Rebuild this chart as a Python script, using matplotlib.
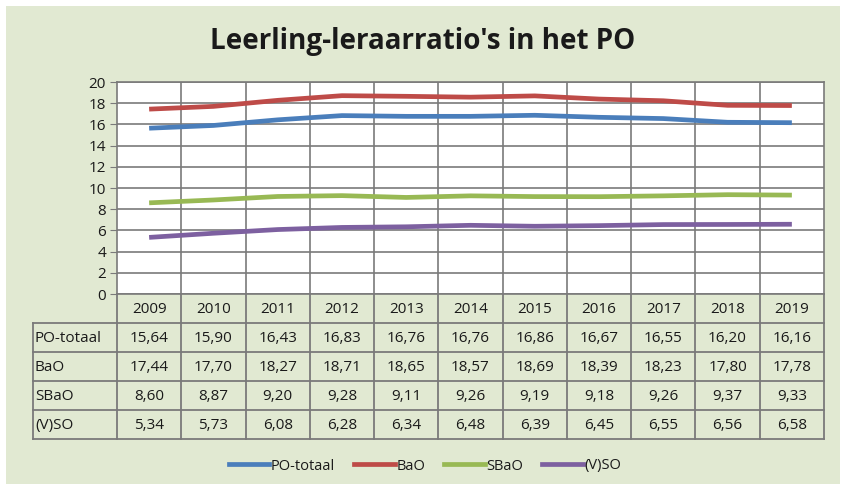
import matplotlib
matplotlib.use("Agg")
import matplotlib.pyplot as plt
from matplotlib.lines import Line2D
from matplotlib.patches import Rectangle

years = [2009, 2010, 2011, 2012, 2013, 2014, 2015, 2016, 2017, 2018, 2019]
po_totaal = [15.64, 15.90, 16.43, 16.83, 16.76, 16.76, 16.86, 16.67, 16.55, 16.20, 16.16]
bao = [17.44, 17.70, 18.27, 18.71, 18.65, 18.57, 18.69, 18.39, 18.23, 17.80, 17.78]
sbao = [8.60, 8.87, 9.20, 9.28, 9.11, 9.26, 9.19, 9.18, 9.26, 9.37, 9.33]
vso = [5.34, 5.73, 6.08, 6.28, 6.34, 6.48, 6.39, 6.45, 6.55, 6.56, 6.58]
names = ["PO-totaal", "BaO", "SBaO", "(V)SO"]
colors = ["#4a7ebb", "#be4b48", "#98b954", "#7d60a0"]
series = [po_totaal, bao, sbao, vso]

W, H = 846, 491
bg = "#e1e9d2"
gridc = "#7a7a7a"
txt = "#1a1a1a"
plt.rcParams['font.family'] = ['Open Sans', 'DejaVu Sans']

fig = plt.figure(figsize=(W / 100, H / 100), dpi=100)
fig.patch.set_facecolor("white")

def fx(x):
    return x / W

def fy(y):
    return 1 - y / H

fig.add_artist(Rectangle((fx(6), fy(484)), fx(834), (478) / H, transform=fig.transFigure,
                         facecolor=bg, edgecolor="none", zorder=0))

left, right, top, bottom = 117, 824, 82, 294
ax = fig.add_axes([fx(left), fy(bottom), fx(right - left), (bottom - top) / H])
ax.set_facecolor("white")
n = len(years)
x = list(range(n))
for s, c, nm in zip(series, colors, names):
    ax.plot(x, s, color=c, lw=3.4, label=nm, solid_capstyle="butt")
ax.set_xlim(-0.5, n - 0.5)
ax.set_ylim(0, 20)
ax.set_yticks(range(0, 21, 2))
ax.set_xticks([i + 0.5 for i in range(n - 1)])
ax.tick_params(axis="x", length=0, labelbottom=False)
ax.tick_params(axis="y", length=5, color=gridc, labelsize=11, pad=3, labelcolor=txt)
ax.grid(True, color=gridc, lw=1.2)
for sp in ax.spines.values():
    sp.set_color(gridc)
    sp.set_linewidth(1.2)

fig.text(0.5, fy(42), "Leerling-leraarratio's in het PO", ha="center", va="center",
         fontsize=20, fontweight="bold", color=txt)

# data table
col_w = (right - left) / n
row_h = 29
hdr_top = bottom
rows_top = bottom + row_h
tbl_bottom = rows_top + row_h * len(names)
lab_left = 33

def hline(y, x0, x1):
    fig.add_artist(Line2D([fx(x0), fx(x1)], [fy(y), fy(y)], color=gridc, lw=1.3))

def vline(x0, y0, y1):
    fig.add_artist(Line2D([fx(x0), fx(x0)], [fy(y0), fy(y1)], color=gridc, lw=1.3))

for i in range(len(names) + 1):
    hline(rows_top + i * row_h, lab_left, right)
for j in range(n + 1):
    vline(left + j * col_w, hdr_top, tbl_bottom)
vline(lab_left, rows_top, tbl_bottom)

fs = 11
for j, yr in enumerate(years):
    fig.text(fx(left + (j + 0.5) * col_w), fy(hdr_top + row_h / 2 + 1), str(yr),
             ha="center", va="center", fontsize=fs, color=txt)
for i, (nm, s) in enumerate(zip(names, series)):
    yc = rows_top + (i + 0.5) * row_h + 1
    fig.text(fx(lab_left + 2), fy(yc), nm, ha="left", va="center", fontsize=fs, color=txt)
    for j, v in enumerate(s):
        fig.text(fx(left + (j + 0.5) * col_w), fy(yc), f"{v:.2f}".replace(".", ","),
                 ha="center", va="center", fontsize=fs, color=txt)

handles = [Line2D([], [], color=c, lw=3.4) for c in colors]
fig.legend(handles, names, loc="center", bbox_to_anchor=(fx(425), fy(466)), ncol=4,
           frameon=False, fontsize=10.5, handlelength=2.8, handletextpad=0.1,
           columnspacing=1.3, labelcolor=txt)

fig.savefig("out.png", dpi=100, facecolor=fig.get_facecolor())
